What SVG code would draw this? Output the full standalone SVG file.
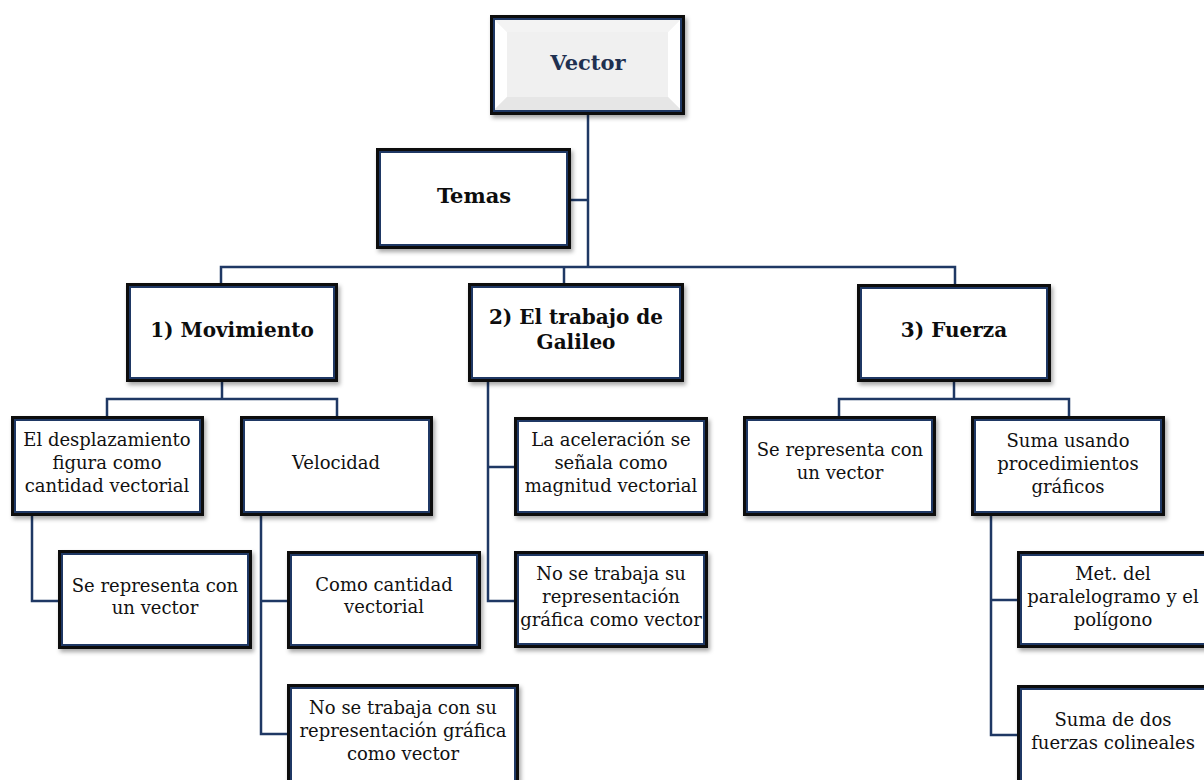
<svg xmlns="http://www.w3.org/2000/svg" width="1204" height="780" viewBox="0 0 1204 780">
  <defs>
    <filter id="shadow" x="-10%" y="-10%" width="125%" height="130%">
      <feDropShadow dx="2" dy="3" stdDeviation="2" flood-color="#000" flood-opacity="0.35"/>
    </filter>
  </defs>
  <style>
    .frame { fill: #ffffff; stroke: #0d0d0d; stroke-width: 3; filter: url(#shadow); }
    .inner { fill: none; stroke: #1f3864; stroke-width: 2; }
    .txt { font-family: "DejaVu Serif", "Liberation Serif", serif; font-size: 18px; fill: #111; text-anchor: middle; }
    .head { font-family: "DejaVu Serif", "Liberation Serif", serif; font-size: 20px; font-weight: bold; fill: #0d0d0d; text-anchor: middle; }
    .link { fill: none; stroke: #1f3864; stroke-width: 2.5; stroke-linejoin: miter; }
  </style>
  <rect width="1204" height="780" fill="#ffffff"/>

  <!-- connectors -->
  <g id="connectors" class="link">
    <path d="M588 115 V267"/>
    <path d="M571 200 H588"/>
    <path d="M221 283 V267 H955 V284"/>
    <path d="M564 267 V283"/>
    <!-- Movimiento branch -->
    <path d="M222 382 V399"/>
    <path d="M107 416 V399 H337 V416"/>
    <path d="M32 516 V601 H58"/>
    <path d="M261 516 V734 H287"/>
    <path d="M261 601 H287"/>
    <!-- Galileo branch -->
    <path d="M488 382 V601 H514"/>
    <path d="M488 467 H514"/>
    <!-- Fuerza branch -->
    <path d="M954 382 V399"/>
    <path d="M839 416 V399 H1069 V416"/>
    <path d="M991 516 V735 H1017"/>
    <path d="M991 600 H1017"/>
  </g>

  <!-- root node -->
  <g id="vector">
    <rect class="frame" x="491.5" y="16.5" width="192" height="97" style="fill:#f0f0f0"/>
    <polygon points="494,19 507,32 507,97 494,110" fill="#ffffff"/>
    <polygon points="681,19 668,32 668,97 681,110" fill="#ffffff"/>
    <polygon points="494,19 681,19 668,32 507,32" fill="#f3f3f3"/>
    <polygon points="494,110 681,110 668,97 507,97" fill="#e6e6e6"/>
    <rect class="inner" x="494" y="19" width="187" height="92"/>
    <text class="head" x="588" y="70" style="font-size:21px;fill:#1f3050">Vector</text>
  </g>

  <g id="temas">
    <rect class="frame" x="377.5" y="149.5" width="192" height="98"/>
    <rect class="inner" x="380" y="152" width="187" height="93"/>
    <text class="head" x="474" y="203" style="font-size:21px">Temas</text>
  </g>

  <g id="movimiento">
    <rect class="frame" x="127.5" y="284.5" width="209" height="96"/>
    <rect class="inner" x="130" y="287" width="204" height="91"/>
    <text class="head" x="232" y="337">1) Movimiento</text>
  </g>

  <g id="galileo">
    <rect class="frame" x="469.5" y="284.5" width="213" height="96"/>
    <rect class="inner" x="472" y="287" width="208" height="91"/>
    <text class="head" x="576" y="324">2) El trabajo de</text>
    <text class="head" x="576" y="349">Galileo</text>
  </g>

  <g id="fuerza">
    <rect class="frame" x="858.5" y="285.5" width="191" height="95"/>
    <rect class="inner" x="861" y="288" width="186" height="90"/>
    <text class="head" x="954" y="337">3) Fuerza</text>
  </g>

  <g id="desplazamiento">
    <rect class="frame" x="12.5" y="417.5" width="190" height="97"/>
    <rect class="inner" x="15" y="420" width="185" height="92"/>
    <text class="txt" x="107" y="446">El desplazamiento</text>
    <text class="txt" x="107" y="469">figura como</text>
    <text class="txt" x="107" y="492">cantidad vectorial</text>
  </g>

  <g id="velocidad">
    <rect class="frame" x="241.5" y="417.5" width="190" height="97"/>
    <rect class="inner" x="244" y="420" width="185" height="92"/>
    <text class="txt" x="336" y="469">Velocidad</text>
  </g>

  <g id="aceleracion">
    <rect class="frame" x="515.5" y="418.5" width="191" height="96"/>
    <rect class="inner" x="518" y="421" width="186" height="91"/>
    <text class="txt" x="611" y="446">La aceleración se</text>
    <text class="txt" x="611" y="469">señala como</text>
    <text class="txt" x="611" y="492">magnitud vectorial</text>
  </g>

  <g id="fuerza-vector">
    <rect class="frame" x="744.5" y="417.5" width="190" height="97"/>
    <rect class="inner" x="747" y="420" width="185" height="92"/>
    <text class="txt" x="840" y="456">Se representa con</text>
    <text class="txt" x="840" y="479">un vector</text>
  </g>

  <g id="suma-graficos">
    <rect class="frame" x="972.5" y="417.5" width="191" height="97"/>
    <rect class="inner" x="975" y="420" width="186" height="92"/>
    <text class="txt" x="1068" y="447">Suma usando</text>
    <text class="txt" x="1068" y="470">procedimientos</text>
    <text class="txt" x="1068" y="493">gráficos</text>
  </g>

  <g id="desplazamiento-vector">
    <rect class="frame" x="59.5" y="551.5" width="191" height="96"/>
    <rect class="inner" x="62" y="554" width="186" height="91"/>
    <text class="txt" x="155" y="592">Se representa con</text>
    <text class="txt" x="155" y="614">un vector</text>
  </g>

  <g id="como-cantidad">
    <rect class="frame" x="288.5" y="552.5" width="191" height="95"/>
    <rect class="inner" x="291" y="555" width="186" height="90"/>
    <text class="txt" x="384" y="591">Como cantidad</text>
    <text class="txt" x="384" y="613">vectorial</text>
  </g>

  <g id="galileo-grafica">
    <rect class="frame" x="515.5" y="552.5" width="191" height="94"/>
    <rect class="inner" x="518" y="555" width="186" height="89"/>
    <text class="txt" x="611" y="580">No se trabaja su</text>
    <text class="txt" x="611" y="603">representación</text>
    <text class="txt" x="611" y="626">gráfica como vector</text>
  </g>

  <g id="paralelogramo">
    <rect class="frame" x="1018.5" y="552.5" width="190" height="94"/>
    <rect class="inner" x="1021" y="555" width="185" height="89"/>
    <text class="txt" x="1113" y="580">Met. del</text>
    <text class="txt" x="1113" y="603">paralelogramo y el</text>
    <text class="txt" x="1113" y="626">polígono</text>
  </g>

  <g id="velocidad-grafica">
    <rect class="frame" x="288.5" y="685.5" width="229" height="100"/>
    <rect class="inner" x="291" y="688" width="224" height="95"/>
    <text class="txt" x="403" y="714">No se trabaja con su</text>
    <text class="txt" x="403" y="737">representación gráfica</text>
    <text class="txt" x="403" y="760">como vector</text>
  </g>

  <g id="colineales">
    <rect class="frame" x="1018.5" y="686.5" width="190" height="100"/>
    <rect class="inner" x="1021" y="689" width="185" height="95"/>
    <text class="txt" x="1113" y="726">Suma de dos</text>
    <text class="txt" x="1113" y="749">fuerzas colineales</text>
  </g>
</svg>
